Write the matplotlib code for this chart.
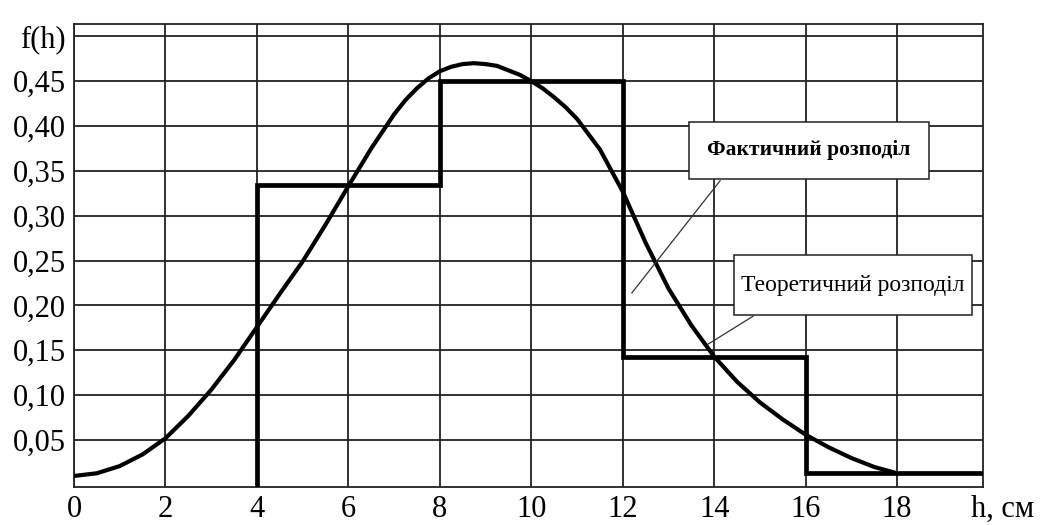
#!/usr/bin/env python3
"""Actual vs theoretical distribution of h (histogram + fitted curve)."""
import matplotlib
matplotlib.use("Agg")
import matplotlib.pyplot as plt
from matplotlib.patches import Rectangle

# theoretical curve
h_theor = [0, 0.5, 1, 1.5, 2, 2.5, 3, 3.5, 4, 4.5, 5, 5.5, 6, 6.5, 7, 7.25,
           7.5, 7.75, 8, 8.25, 8.5, 8.75, 9, 9.25, 9.5, 9.75, 10, 10.25,
           10.5, 10.75, 11, 11.5, 12, 12.5, 13, 13.5, 14, 14.5, 15, 15.5,
           16, 16.5, 17, 17.5, 18]
f_theor = [0.010, 0.013, 0.021, 0.034, 0.052, 0.077, 0.106, 0.139, 0.176,
           0.213, 0.249, 0.290, 0.333, 0.375, 0.413, 0.429, 0.442, 0.453,
           0.461, 0.466, 0.469, 0.470, 0.469, 0.467, 0.462, 0.457, 0.450,
           0.442, 0.432, 0.421, 0.408, 0.374, 0.327, 0.270, 0.219, 0.178,
           0.143, 0.115, 0.092, 0.073, 0.056, 0.042, 0.030, 0.020, 0.013]

# actual (histogram) distribution
bin_edges = [4, 8, 12, 16, 20]
f_actual = [0.334, 0.450, 0.143, 0.013]

y_ticks = [0.05, 0.10, 0.15, 0.20, 0.25, 0.30, 0.35, 0.40, 0.45, 0.50]
y_labels = ["0,05", "0,10", "0,15", "0,20", "0,25", "0,30", "0,35", "0,40",
            "0,45", "f(h)"]
x_ticks = [0, 2, 4, 6, 8, 10, 12, 14, 16, 18]

plt.rcParams["font.family"] = ["Liberation Serif", "DejaVu Serif"]

fig = plt.figure(figsize=(10.44, 5.25), dpi=100)
ax = fig.add_axes([0.0709, 0.0724, 0.8707, 0.8816])

ax.set_xlim(0, 19.88)
ax.set_ylim(-0.0023, 0.5135)

ax.set_xticks(x_ticks)
ax.set_xticklabels([str(t) for t in x_ticks])
ax.set_yticks(y_ticks)
ax.set_yticklabels(y_labels)
ax.tick_params(length=0, labelsize=22, colors="black")
ax.tick_params(axis="x", pad=6)
ax.tick_params(axis="y", pad=6)
ax.grid(True, color="#222222", lw=1.3)
ax.set_axisbelow(True)
for s in ax.spines.values():
    s.set_color("#222222")
    s.set_linewidth(1.3)

ax.plot(h_theor, f_theor, color="black", lw=3.0, solid_capstyle="round",
        solid_joinstyle="round", zorder=3)
ax.stairs(f_actual, bin_edges, baseline=-0.0023, color="black", lw=3.4,
          zorder=3)

# axis name for h
ax.annotate("h, см", xy=(20.3, 0), xycoords=("data", "axes fraction"),
            xytext=(0, -6), textcoords="offset points", ha="center",
            va="top", fontsize=22, annotation_clip=False)

# callouts
ax.plot([14.13, 12.2], [0.339, 0.214], color="#333333", lw=0.9, zorder=4)
ax.plot([14.85, 13.87], [0.188, 0.157], color="#333333", lw=0.9, zorder=4)

ax.add_patch(Rectangle((13.44, 0.341), 18.69 - 13.44, 0.405 - 0.341,
                       facecolor="white", edgecolor="#222222", lw=1.1,
                       zorder=5))
ax.text((13.44 + 18.69) / 2, (0.341 + 0.405) / 2, "Фактичний розподіл",
        ha="center", va="center", fontsize=15.5, fontweight="bold", zorder=6)

ax.add_patch(Rectangle((14.44, 0.189), 19.63 - 14.44, 0.256 - 0.189,
                       facecolor="white", edgecolor="#222222", lw=1.1,
                       zorder=5))
ax.text((14.44 + 19.63) / 2, (0.189 + 0.256) / 2, "Теоретичний розподіл",
        ha="center", va="center", fontsize=17, zorder=6)

fig.savefig("out.png", dpi=100)
plt.close(fig)
